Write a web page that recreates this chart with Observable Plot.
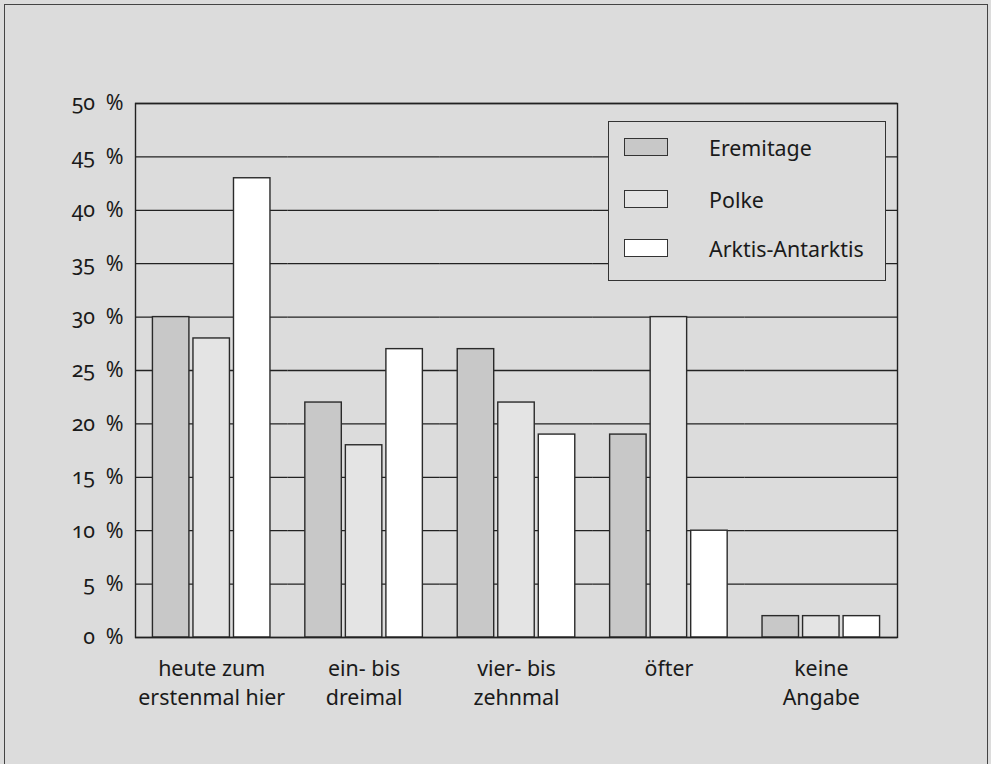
<!DOCTYPE html>
<html>
<head>
<meta charset="utf-8">
<script src="https://cdn.jsdelivr.net/npm/d3@7"></script>
<script src="https://cdn.jsdelivr.net/npm/@observablehq/plot@0.6"></script>
<style>
  html, body { margin: 0; padding: 0; background: #dcdcdc; overflow: hidden; }
  body { width: 991px; height: 764px; position: relative; font-family: "Noto Sans", "Open Sans", sans-serif; font-variant-numeric: oldstyle-nums; font-feature-settings: "onum" 1; }
  #outer { position: absolute; left: 4px; top: 4px; width: 984px; height: 820px; border: 1.3px solid #444; box-sizing: border-box; }
  #chart { position: absolute; left: 0; top: 0; }
  #chart svg text { font-feature-settings: "onum" 1; font-variant-numeric: oldstyle-nums; }
  #legend { position: absolute; left: 608px; top: 121px; width: 278px; height: 160px; border: 1.3px solid #333; box-sizing: border-box; background: #dcdcdc; }
  .row { position: absolute; left: 15px; height: 18px; display: flex; align-items: center; }
  .sw { width: 44px; height: 18px; border: 1.2px solid #333; box-sizing: border-box; }
  .lab { margin-left: 41px; font-size: 21.4px; color: #1a1a1a; line-height: 18px; position: relative; top: 1px; white-space: nowrap; }
</style>
</head>
<body>
<div id="outer"></div>
<div id="chart"></div>
<div id="legend"></div>
<script>
const categories = ["heute zum\nerstenmal hier", "ein- bis\ndreimal", "vier- bis\nzehnmal", "öfter", "keine\nAngabe"];
const seriesNames = ["Eremitage", "Polke", "Arktis-Antarktis"];
const eremitage = [30, 22, 27, 19, 2];
const polke = [28, 18, 22, 30, 2];
const arktis = [43, 27, 19, 10, 2];
const yTicks = [0, 5, 10, 15, 20, 25, 30, 35, 40, 45, 50];
const fills = ["#c8c8c8", "#e4e4e4", "#ffffff"];

const seriesValues = [eremitage, polke, arktis];
const data = categories.flatMap((c, i) =>
  seriesNames.map((s, j) => ({category: c, series: s, value: seriesValues[j][i]}))
);

const chart = Plot.plot({
  width: 991,
  height: 764,
  marginLeft: 135,
  marginRight: 94,
  marginTop: 103,
  marginBottom: 127,
  style: {background: "transparent", fontSize: "21.4px", fontFamily: "'Noto Sans', 'Open Sans', sans-serif", color: "#1a1a1a", fontVariantNumeric: "oldstyle-nums"},
  fx: {domain: categories, padding: 0, round: false, axis: null, label: null},
  x: {domain: seriesNames, paddingInner: 0.1, paddingOuter: 0.43, round: false, axis: null},
  y: {domain: [0, 50], ticks: yTicks, tickFormat: d => d + "\u2002%", tickSize: 0, tickPadding: 12, label: null},
  color: {domain: seriesNames, range: fills},
  marks: [
    Plot.ruleY(yTicks, {stroke: "#222", strokeWidth: 1.3}),
    Plot.barY(data, {fx: "category", x: "series", y: "value", fill: "series", stroke: "#2a2a2a", strokeWidth: 1.4}),
    Plot.frame({facet: "super", stroke: "#222", strokeWidth: 1.4}),
    Plot.text(categories, {fx: d => d, text: d => d, frameAnchor: "bottom", lineAnchor: "top", dy: 18, lineHeight: 1.36, fontSize: 21.4, fill: "#1a1a1a"})
  ]
});
document.getElementById("chart").appendChild(chart);

const legend = document.getElementById("legend");
const rowTops = [16, 68, 117];
seriesNames.forEach((s, j) => {
  const row = document.createElement("div");
  row.className = "row";
  row.style.top = rowTops[j] + "px";
  const sw = document.createElement("div");
  sw.className = "sw";
  sw.style.background = fills[j];
  const lab = document.createElement("span");
  lab.className = "lab";
  lab.textContent = s;
  row.appendChild(sw);
  row.appendChild(lab);
  legend.appendChild(row);
});
</script>
</body>
</html>
